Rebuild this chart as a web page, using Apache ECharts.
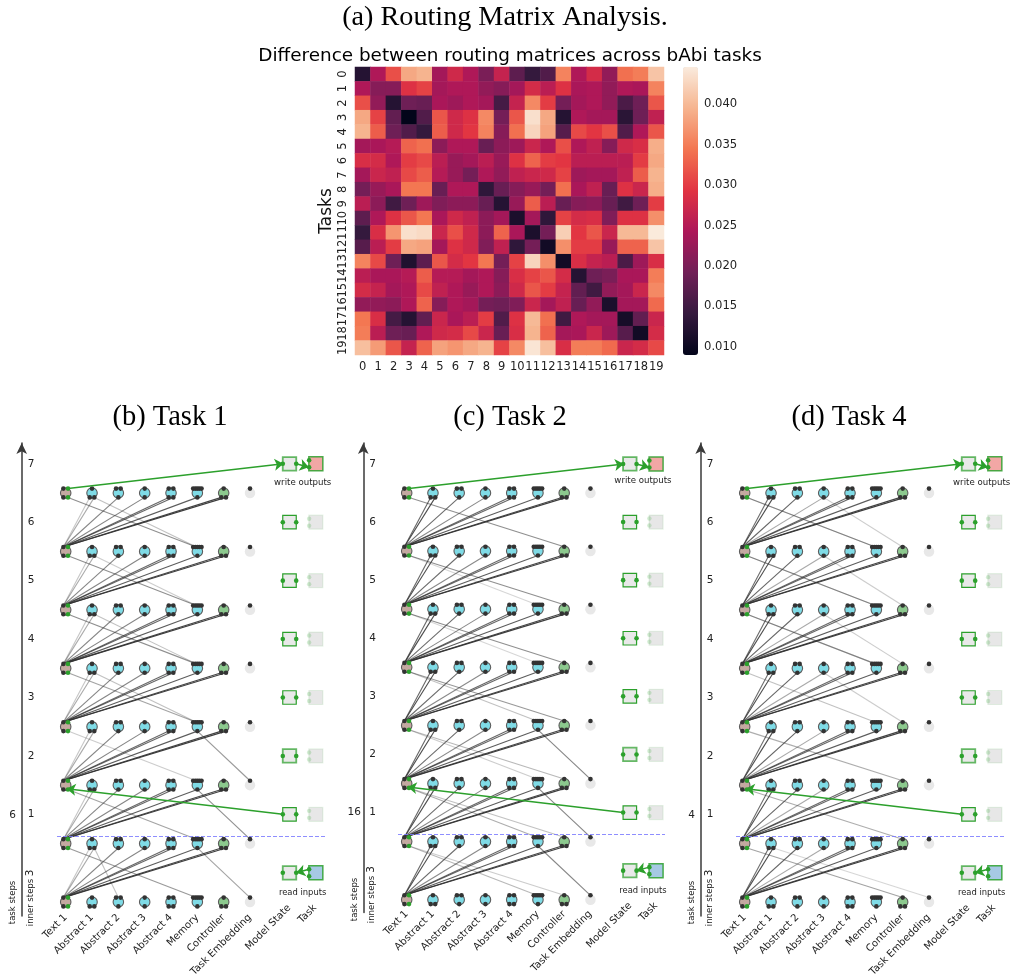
<!DOCTYPE html>
<html>
<head>
<meta charset="utf-8">
<style>html,body{margin:0;padding:0;background:#fff}#c{width:1011px;height:975px}</style>
<script src="https://cdn.jsdelivr.net/npm/echarts@6/dist/echarts.min.js"></script>
</head>
<body>
<div id="c"></div>
<script>
const taskLabels = ['0','1','2','3','4','5','6','7','8','9','10','11','12','13','14','15','16','17','18','19'];
const rows00to04 = [
 [.0125,.0245,.0315,.0385,.0395,.0235,.0275,.0245,.020,.0265,.0175,.014,.0165,.0355,.0245,.028,.022,.034,.035,.041],
 [.0245,.021,.021,.029,.0305,.0235,.0245,.0245,.022,.021,.0235,.028,.0255,.029,.024,.0245,.022,.0245,.024,.0355],
 [.0315,.022,.0125,.019,.0185,.024,.023,.0245,.0235,.0155,.0265,.036,.030,.0195,.0235,.0245,.022,.016,.019,.032],
 [.0385,.0305,.018,.009,.0165,.032,.0275,.029,.036,.0195,.032,.0435,.0385,.0125,.0245,.0235,.0235,.013,.019,.026],
 [.0395,.0325,.019,.0165,.014,.0325,.0275,.0295,.0355,.021,.034,.0425,.038,.017,.031,.0295,.0315,.0165,.0245,.032]];
const rows05to09 = [
 [.0235,.024,.025,.033,.034,.0215,.0245,.0245,.0185,.0215,.023,.027,.0245,.0315,.0245,.026,.021,.0275,.0285,.039],
 [.0285,.028,.0245,.030,.031,.0255,.0225,.0235,.0255,.0225,.029,.033,.030,.0295,.0255,.0255,.0255,.0255,.030,.0385],
 [.0235,.027,.026,.031,.0325,.025,.0225,.0195,.0245,.022,.026,.027,.0275,.0305,.023,.0235,.0235,.026,.0325,.0395],
 [.0195,.0225,.024,.0345,.0345,.0185,.0245,.0245,.0135,.0185,.021,.0225,.0195,.034,.024,.026,.0185,.029,.027,.039],
 [.0255,.0215,.015,.019,.023,.0205,.0215,.0215,.0185,.0125,.0225,.0325,.0255,.0185,.021,.0215,.0185,.015,.019,.030]];
const rows10to14 = [
 [.0175,.0245,.029,.032,.0345,.024,.0275,.026,.0215,.0235,.0115,.0235,.0135,.0305,.028,.0285,.0205,.029,.029,.0365],
 [.014,.0285,.037,.0435,.043,.027,.0315,.0275,.0215,.033,.024,.0115,.0195,.042,.0295,.032,.027,.040,.040,.0445],
 [.017,.0255,.030,.0385,.038,.0235,.029,.0275,.0205,.026,.0135,.0195,.0105,.0365,.030,.030,.0225,.033,.033,.041],
 [.0355,.031,.019,.012,.0175,.032,.028,.0295,.0345,.0195,.0305,.0425,.0365,.0105,.0285,.0265,.0255,.016,.023,.0285],
 [.0255,.024,.024,.025,.0325,.025,.025,.0235,.0245,.021,.0285,.0305,.032,.028,.0125,.019,.020,.024,.024,.035]];
const rows15to19 = [
 [.028,.0265,.0235,.0245,.031,.026,.0245,.0225,.0245,.0215,.0275,.032,.030,.0265,.018,.015,.022,.0235,.027,.036],
 [.022,.022,.0215,.0245,.033,.021,.0245,.0235,.0195,.019,.0205,.027,.0235,.026,.0185,.022,.0115,.0235,.0235,.0335],
 [.0345,.0285,.0155,.0125,.018,.027,.024,.0255,.030,.0165,.029,.040,.034,.015,.0245,.0235,.0235,.011,.018,.027],
 [.035,.0255,.019,.0185,.0245,.0275,.028,.031,.027,.0185,.0285,.0395,.033,.0235,.024,.027,.023,.017,.0105,.028],
 [.0405,.0375,.032,.0265,.033,.038,.037,.0385,.0395,.0305,.036,.044,.0405,.0285,.035,.035,.0335,.027,.028,.031]];
const colorbarTicks = [0.010,0.015,0.020,0.025,0.030,0.035,0.040];
const nodeLabels = ['Text 1','Abstract 1','Abstract 2','Abstract 3','Abstract 4','Memory','Controller','Task Embedding'];
const nodeCols = [0,1,2,3,4,5,6,7];
const stateLabels = ['Model State','Task'];
const stepLabels = ['1','2','3','4','5','6','7'];
const stepRows = [1.5,2.5,3.5,4.5,5.5,6.5,7.5];
const upB = [[.28,.42],[.6],[.6],[.75,.75],[.8],[.92,.95]];
const upC = [[.75,.88],[.72],[.58],[.75,.75],[.8],[.92,.95]];
const upD = [[.72,.88],[.75],[.42],[.75,.75],[.8],[.92,.95]];
const downB = [[6,0,5,.55],[6,1,5,.3],[5,0,5,.55],[5,1,5,.25],[4,0,5,.55],[4,1,5,.3],[3,0,5,.45],[3,1,5,.3],[2,0,5,.25],[2,5,7,.5],[1,0,5,.45],[1,5,7,.55],[0,0,5,.5],[0,1,2,.3],[0,5,7,.45]];
const downC = [[6,0,6,.55],[5,0,6,.55],[5,0,5,.2],[4,0,6,.55],[4,0,5,.2],[3,0,6,.5],[3,0,5,.3],[2,0,5,.25],[2,0,6,.35],[2,5,7,.6],[1,0,5,.4],[1,0,6,.3],[1,5,7,.6],[0,0,5,.35],[0,0,6,.25],[0,5,7,.6]];
const downD = [[6,0,5,.45],[6,0,5,.3],[6,3,6,.25],[5,0,5,.45],[5,0,5,.3],[5,3,6,.25],[4,0,5,.45],[4,0,5,.3],[4,3,6,.25],[3,0,5,.3],[3,3,6,.25],[2,0,6,.4],[1,0,6,.4],[0,0,6,.45],[0,1,7,.2]];

const matrix = [...rows00to04,...rows05to09,...rows10to14,...rows15to19];
const heat = [];
matrix.forEach((r,i)=>r.forEach((v,j)=>heat.push([j,i,v])));

const GREEN='#2ca02c', DARK='#333333';
const panels = [
 {x0:65.7,dx:26.33,y0:902,dy:58.43,ax:21.7,bottom:916,dash:[836.7,57,325],side:'6',ups:upB,downs:downB,sideX:12.7,innerX:30.3,stepY:873,stepsY:902.5},
 {x0:406.7,dx:26.25,y0:899.7,dy:58.1,ax:363.3,bottom:912.5,dash:[834.3,398,665],side:'16',ups:upC,downs:downC,sideX:354.3,innerX:371.7,stepY:869.5,stepsY:899.5},
 {x0:744.7,dx:26.33,y0:902,dy:58.43,ax:700.7,bottom:916,dash:[836.7,736,1004],side:'4',ups:upD,downs:downD,sideX:691.7,innerX:709.3,stepY:873,stepsY:902.5}
];
const topPorts = [[-2.3,2.3],[0],[-2.3,2.3],[0],[-2.3,2.3],[-4.2,-2,0,2,4.2],[0],[0]];
const botPorts = [[-2.3,2.3],[-2.3,2.3],[0],[0],[-2.3,2.3],[0],[-2.3,2.3],[]];
const nodeFill = ['#c4a9a1','#7fdbe6','#7fdbe6','#7fdbe6','#7fdbe6','#7fdbe6','#8cc98e','#e8e8e8'];

const grids=[{left:355,top:67,width:309,height:288,outerBoundsMode:'none'},{left:683,top:67,width:15,height:288,outerBoundsMode:'none'}];
const xAxes=[
 {type:'category',gridIndex:0,data:taskLabels,axisLine:{show:false},splitArea:{show:false},
  axisTick:{length:4,alignWithLabel:true,lineStyle:{color:DARK}},axisLabel:{interval:0,fontSize:11.5,color:'#222',fontFamily:'DejaVu Sans',margin:6}},
 {type:'value',gridIndex:1,show:false,min:0,max:1}
];
const yAxes=[
 {type:'category',gridIndex:0,inverse:true,data:taskLabels,axisLine:{show:false},name:'Tasks',nameLocation:'middle',nameGap:20,
  nameTextStyle:{fontSize:17,color:'#111',fontFamily:'DejaVu Sans'},
  axisTick:{length:4,alignWithLabel:true,lineStyle:{color:DARK}},axisLabel:{interval:0,rotate:90,fontSize:11.5,color:'#222',fontFamily:'DejaVu Sans',margin:6}},
 {type:'value',gridIndex:1,position:'right',min:0.009,max:0.0446,splitLine:{show:false},axisLine:{show:false},
  axisTick:{show:true,length:4,customValues:colorbarTicks,lineStyle:{color:DARK}},
  axisLabel:{customValues:colorbarTicks,fontSize:11.6,color:'#222',fontFamily:'DejaVu Sans',margin:6,formatter:v=>v.toFixed(3)}}
];
const series=[
 {type:'heatmap',xAxisIndex:0,yAxisIndex:0,data:heat,silent:true,progressive:0,emphasis:{disabled:true}},
 {type:'scatter',xAxisIndex:1,yAxisIndex:1,data:[],silent:true}
];

panels.forEach((p,k)=>{
 const gi=k+2;
 const top=443, right=p.ax+305, left=p.ax;
 grids.push({left:left,top:top,width:right-left,height:p.bottom-top,outerBoundsMode:'none'});
 const xmin=(left-p.x0)/p.dx, xmax=(right-p.x0)/p.dx;
 const ymin=(p.y0-p.bottom)/p.dy, ymax=(p.y0-top)/p.dy;
 const xfmt={}; nodeCols.forEach((c,i)=>xfmt[c]=nodeLabels[i]);
 const yfmt={}; stepRows.forEach((r,i)=>yfmt[r]=stepLabels[i]);
 xAxes.push({type:'value',gridIndex:gi,min:xmin,max:xmax,splitLine:{show:false},axisLine:{show:false,onZero:false},axisTick:{show:false},
  axisLabel:{customValues:nodeCols,rotate:45,margin:0,fontSize:10,color:'#222',fontFamily:'DejaVu Sans',formatter:v=>xfmt[v]||''}});
 yAxes.push({type:'value',gridIndex:gi,min:ymin,max:ymax,position:'left',splitLine:{show:false},
  axisLine:{show:true,onZero:false,symbol:['none','arrow'],symbolSize:[8,11],symbolOffset:[0,0],lineStyle:{color:'#3a3a3a',width:1.5}},axisTick:{show:false},
  axisLabel:{inside:true,customValues:stepRows,margin:6,fontSize:10.5,color:'#222',fontFamily:'DejaVu Sans',formatter:v=>yfmt[v]||''}});
 const dxp=v=>v/p.dx, dyp=v=>v/p.dy;
 const edges=[];
 for(let r=0;r<7;r++){
  p.ups.forEach((ws,ci)=>{
   const col=ci+1, ports=botPorts[col];
   ws.forEach((w,pi)=>{
    edges.push({coords:[[dxp(-2.3),r+dyp(4.4)],[col+dxp(ports[pi%ports.length]),r+1-dyp(4.4)]],lineStyle:{opacity:w,width:1.1,color:DARK}});
   });
  });
 }
 p.downs.forEach(d=>{
  const [r,from,to,w]=d;
  const fp=from===0?2.3:(botPorts[from][botPorts[from].length-1]||0);
  const tp=to===5?-1:0;
  edges.push({coords:[[from+dxp(fp),r+1-dyp(4.4)],[to+dxp(tp),r+dyp(4.4)]],lineStyle:{opacity:w,width:1.1,color:DARK}});
 });
 const common={xAxisIndex:gi,yAxisIndex:gi,silent:true,animation:false};
 series.push({...common,type:'lines',coordinateSystem:'cartesian2d',data:edges,symbol:['none','none'],z:2});
 // dashed separator
 const dY=(p.y0-p.dash[0])/p.dy;
 series.push({...common,type:'lines',coordinateSystem:'cartesian2d',symbol:['none','none'],z:2,
  data:[{coords:[[(p.dash[1]-p.x0)/p.dx,dY],[(p.dash[2]-p.x0)/p.dx,dY]],lineStyle:{color:'#7a7aff',width:1,type:[4,2],opacity:.85}}]});
 // nodes
 const nodes=[], darkPorts=[], greenPorts=[], fadePorts=[];
 for(let r=0;r<8;r++){
  for(let c=0;c<8;c++){
   nodes.push({value:[c,r],symbolSize:10.5,itemStyle:{opacity:1,color:nodeFill[c],borderColor:c===7?'#e8e8e8':'#5c5c5c',borderWidth:c===7?0:1.1}});
   topPorts[c].forEach((o,i)=>{
    const pt=[c+dxp(o),r+dyp(4.4)];
    (c===0&&i===1?greenPorts:darkPorts).push(pt);
   });
   botPorts[c].forEach((o,i)=>{
    const pt=[c+dxp(o),r-dyp(4.4)];
    (c===0&&i===1?greenPorts:darkPorts).push(pt);
   });
  }
 }
 series.push({...common,type:'scatter',clip:false,data:nodes,symbol:'circle',z:3});
 series.push({...common,type:'scatter',clip:false,data:darkPorts,symbol:'circle',symbolSize:4.6,itemStyle:{color:'#333',opacity:1},z:4});
 // state boxes
 const boxes=[];
 stepRows.concat([.5]).forEach(r=>{
  const ends=(r===7.5||r===.5||r===2.5);
  boxes.push({value:[8.5,r],symbolSize:13.5,itemStyle:{opacity:1,color:'#e9e9e9',borderColor:ends?'rgba(44,160,44,.72)':GREEN,borderWidth:ends?1.8:1.2}});
  const fill=r===7.5?'#f2a7a5':(r===.5?'#a6c9e4':'#e7e7e7');
  const on=(r===7.5||r===.5);
  boxes.push({value:[9.5,r],symbolSize:14,itemStyle:{opacity:1,color:fill,borderColor:on?'rgba(44,160,44,.85)':'rgba(44,160,44,.1)',borderWidth:on?1.5:1.2}});
  greenPorts.push([8.5-dxp(6.7),r],[8.5+dxp(6.7),r]);
  (on?greenPorts:fadePorts).push([9.5-dxp(6.7),r+dyp(3.5)],[9.5-dxp(6.7),r-dyp(3.5)]);
 });
 series.push({...common,type:'scatter',clip:false,data:boxes,symbol:'rect',z:3});
 series.push({...common,type:'scatter',clip:false,data:greenPorts,symbol:'circle',symbolSize:4.6,itemStyle:{color:GREEN,opacity:1},z:4});
 series.push({...common,type:'scatter',clip:false,data:fadePorts,symbol:'circle',symbolSize:4.4,itemStyle:{color:GREEN,opacity:.2},z:4});
 // green arrows
 const arrows=[
  [[dxp(2.3),7+dyp(4.4)],[8.5-dxp(6),7.5]],
  [[8.5+dxp(6.7),7.5],[9.5-dxp(7),7.5-dyp(3.5)]],
  [[8.5-dxp(6.7),1.5],[dxp(1),2-dyp(3.6)]],
  [[9.5-dxp(6.7),.5+dyp(3.5)],[8.5+dxp(6.7),.5]]
 ];
 series.push({...common,type:'lines',coordinateSystem:'cartesian2d',symbol:['none','arrow'],symbolSize:[0,9],z:5,
  data:arrows.map(c=>({coords:c,lineStyle:{color:GREEN,width:1.5,opacity:1,curveness:0}}))});
 // text annotations
 const ann=(px,py,text,size,rot,color)=>({value:[(px-p.x0)/p.dx,(p.y0-py)/p.dy],
  label:{show:true,position:'inside',formatter:text,rotate:rot||0,fontSize:size,color:color||'#222',fontFamily:'DejaVu Sans'}});
 const cx=p.x0+9*p.dx;
 series.push({...common,type:'scatter',clip:false,symbol:'circle',symbolSize:1,itemStyle:{color:'rgba(0,0,0,0)',opacity:1},z:6,data:[
  ann(cx,p.y0-419,'write outputs',8.6),
  ann(cx,p.y0-9,'read inputs',8.4),
  ann(p.sideX,p.y0-87,p.side,10.5),
  ann(p.sideX,p.stepsY,'task steps',8.5,90),
  ann(p.innerX,p.stepsY,'inner steps',8.5,90),
  ann(p.innerX,p.stepY,'3',10.5,90),
  ann(p.x0+202.5,p.y0+25.5,stateLabels[0],10,45),
  ann(p.x0+241.8,p.y0+12,stateLabels[1],10,45)
 ]});
});

const titleFont={fontFamily:'Liberation Serif',fontWeight:'normal',color:'#000'};
const option={
 animation:false,
 backgroundColor:'#fff',
 title:[
  {text:'(a) Routing Matrix Analysis.',left:505,top:4,textAlign:'center',padding:0,textStyle:{...titleFont,fontSize:28.2}},
  {text:'Difference between routing matrices across bAbi tasks',left:510,top:47,textAlign:'center',padding:0,textStyle:{fontFamily:'DejaVu Sans',fontWeight:'normal',fontSize:18.4,color:'#000'}},
  {text:'(b) Task 1',left:170,top:403,textAlign:'center',padding:0,textStyle:{...titleFont,fontSize:28.5}},
  {text:'(c) Task 2',left:510,top:403,textAlign:'center',padding:0,textStyle:{...titleFont,fontSize:28.5}},
  {text:'(d) Task 4',left:849,top:403,textAlign:'center',padding:0,textStyle:{...titleFont,fontSize:28.5}}
 ],
 grid:grids,xAxis:xAxes,yAxis:yAxes,series:series,
 visualMap:{type:'continuous',seriesIndex:0,min:0.009,max:0.0446,left:683,top:67,itemWidth:15,itemHeight:288,padding:0,calculable:false,
  show:true,showLabel:false,text:null,textStyle:{fontSize:0},realtime:false,hoverLink:false,
  inRange:{color:['#03051a','#35193e','#701f57','#ad1759','#e13342','#f37651','#f6b48f','#faebdd']}}
};
const chart=echarts.init(document.getElementById('c'),null,{renderer:'canvas',width:1011,height:975});
chart.setOption(option);
</script>
</body>
</html>
